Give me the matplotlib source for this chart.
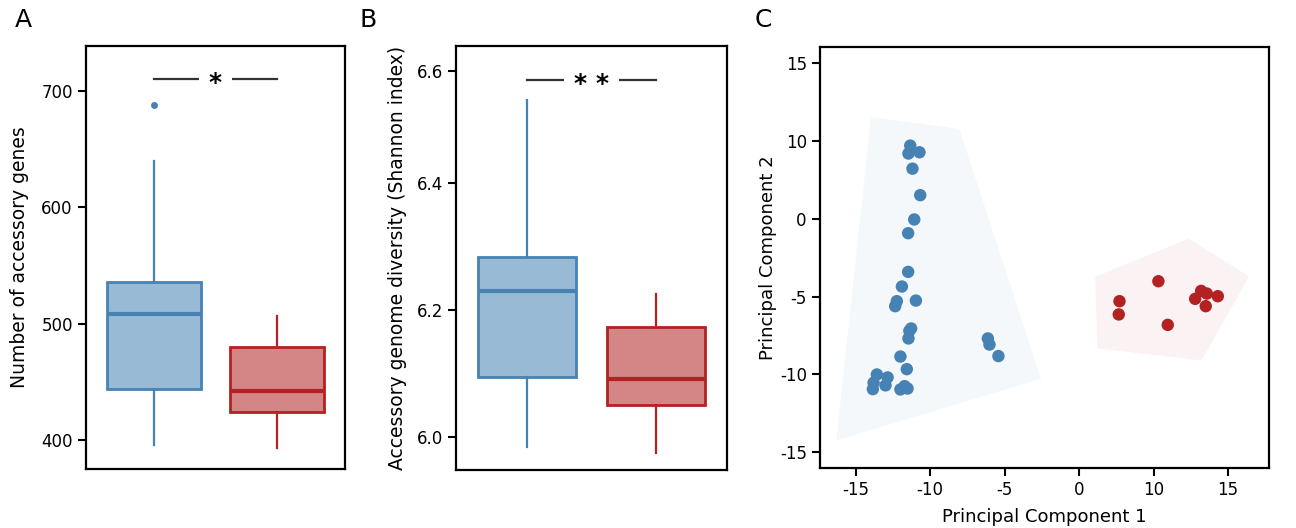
import numpy as np
import matplotlib
matplotlib.use("Agg")
import matplotlib.pyplot as plt
from matplotlib.patches import Polygon

blue = "#4682b4"
red = "#b22222"

# Panel A: number of accessory genes (box stats)
genes_stats = [
    dict(med=508.6, q1=443.6, q3=535.9, whislo=395.7, whishi=639.7, fliers=[688.2]),
    dict(med=442.4, q1=424.0, q3=480.2, whislo=393.4, whishi=506.3, fliers=[]),
]

# Panel B: accessory genome diversity (Shannon index)
shannon_stats = [
    dict(med=6.230, q1=6.095, q3=6.283, whislo=5.984, whishi=6.531, fliers=[]),
    dict(med=6.092, q1=6.050, q3=6.174, whislo=5.975, whishi=6.225, fliers=[]),
]
shannon_ticks = [6.0, 6.2, 6.4, 6.576]
shannon_ticklabels = ["6.0", "6.2", "6.4", "6.6"]

# Panel C: PCA (axis positions; tick labels as printed in the figure)
pc1_blue = [-11.34, -11.46, -10.72, -11.19, -10.67, -11.07, -11.48, -11.48, -11.9,
            -12.24, -12.35, -10.96, -11.28, -11.4, -11.46, -12.0, -11.57, -13.58,
            -12.86, -13.8, -13.0, -13.85, -11.72, -12.0, -11.52, -6.13, -6.02, -5.42]
pc2_blue = [4.68, 4.17, 4.25, 3.2, 1.5, -0.06, -0.94, -3.42, -4.36,
            -5.3, -5.62, -5.26, -7.05, -7.2, -7.69, -8.85, -9.66, -10.0,
            -10.19, -10.53, -10.7, -10.94, -10.75, -10.96, -10.9, -7.69, -8.08, -8.82]
pc1_red = [5.32, 2.71, 2.66, 5.95, 8.19, 7.79, 8.57, 9.31, 8.5]
pc2_red = [-4.02, -5.3, -6.15, -6.82, -4.64, -5.15, -4.81, -4.98, -5.62]
hull_blue = [(-13.98, 6.52), (-8.04, 5.75), (-2.55, -10.28), (-16.31, -14.24)]
hull_red = [(1.07, -3.74), (7.34, -1.28), (11.41, -3.7), (8.23, -9.1), (1.23, -8.33)]
pc_ticks = [-15, -10, -5, 0, 5, 10]
pc_ticklabels = ["-15", "-10", "-5", "0", "10", "15"]

plt.rcParams["font.family"] = "DejaVu Sans"

fig = plt.figure(figsize=(12.96, 5.28), dpi=100)
axA = fig.add_axes([0.0664, 0.1117, 0.1998, 0.8011])
axB = fig.add_axes([0.3519, 0.1098, 0.2091, 0.8030])
axC = fig.add_axes([0.6327, 0.1136, 0.3465, 0.7973])


def draw_boxes(ax, stats):
    for i, (st, col) in enumerate(zip(stats, [blue, red])):
        bp = ax.bxp([st], positions=[i], widths=0.76, patch_artist=True,
                    showcaps=False, flierprops=dict(marker="o", markersize=5,
                                                    markerfacecolor=col, markeredgecolor="none"))
        for b in bp["boxes"]:
            b.set_facecolor(matplotlib.colors.to_rgba(col, 0.55))
            b.set_edgecolor(col)
            b.set_linewidth(2)
        for w in bp["whiskers"]:
            w.set_color(col)
            w.set_linewidth(1.6)
        for m in bp["medians"]:
            m.set_color(col)
            m.set_linewidth(3)
    ax.set_xlim(-0.55, 1.55)
    ax.set_xticks([])


def sig_bar(ax, y, txt):
    ax.plot([0, 1], [y, y], color="#333333", lw=1.6, zorder=3)
    ax.annotate(txt, (0.5, y), xytext=(0, -3), textcoords="offset points",
                ha="center", va="center", fontsize=18, fontweight="bold", zorder=4,
                bbox=dict(boxstyle="square,pad=0.4", fc="white", ec="none"))


draw_boxes(axA, genes_stats)
axA.set_ylim(375, 738.7)
axA.set_yticks([400, 500, 600, 700])
axA.set_ylabel("Number of accessory genes", fontsize=13.5, labelpad=9)
sig_bar(axA, 710.3, "*")

draw_boxes(axB, shannon_stats)
axB.set_ylim(5.948, 6.616)
axB.set_yticks(shannon_ticks)
axB.set_yticklabels(shannon_ticklabels)
axB.set_ylabel("Accessory genome diversity (Shannon index)", fontsize=13.5, labelpad=7)
sig_bar(axB, 6.563, "* *")

axC.add_patch(Polygon(hull_blue, closed=True, fc=blue, alpha=0.05, ec="none"))
axC.add_patch(Polygon(hull_red, closed=True, fc=red, alpha=0.05, ec="none"))
axC.scatter(pc1_blue, pc2_blue, s=80, color=blue, edgecolors="none", zorder=3)
axC.scatter(pc1_red, pc2_red, s=80, color=red, edgecolors="none", zorder=3)
axC.set_xlim(-17.4, 12.75)
axC.set_ylim(-16.0, 11.0)
axC.set_xticks(pc_ticks)
axC.set_xticklabels(pc_ticklabels)
axC.set_yticks(pc_ticks)
axC.set_yticklabels(pc_ticklabels)
axC.set_xlabel("Principal Component 1", fontsize=13, labelpad=6)
axC.set_ylabel("Principal Component 2", fontsize=13, labelpad=2)

for ax in (axA, axB, axC):
    for s in ax.spines.values():
        s.set_linewidth(1.6)
    ax.tick_params(labelsize=12, length=6, width=1.5)

fig.text(0.018, 0.962, "A", fontsize=18, ha="center", va="center")
fig.text(0.284, 0.962, "B", fontsize=18, ha="center", va="center")
fig.text(0.589, 0.962, "C", fontsize=18, ha="center", va="center")

fig.savefig("out.png", dpi=100)
